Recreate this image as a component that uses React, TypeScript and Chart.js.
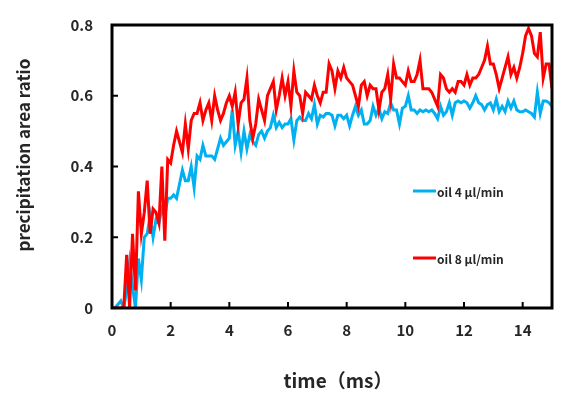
import React, { useEffect, useRef } from "react";
import { Chart, registerables } from "chart.js";

Chart.register(...registerables);

const timeStep = 0.1;

const oil8: number[] = [
  0, 0, 0, 0, 0, 0.15, 0, 0.21, 0.05, 0.33,
  0.21, 0.27, 0.36, 0.21, 0.28, 0.27, 0.24, 0.40, 0.19, 0.42,
  0.41, 0.46, 0.50, 0.47, 0.44, 0.52, 0.45, 0.53, 0.55, 0.55,
  0.58, 0.53, 0.56, 0.58, 0.53, 0.60, 0.56, 0.53, 0.55, 0.58,
  0.60, 0.57, 0.61, 0.52, 0.58, 0.59, 0.65, 0.53, 0.48, 0.52,
  0.59, 0.56, 0.53, 0.60, 0.62, 0.64, 0.56, 0.60, 0.65, 0.60,
  0.64, 0.57, 0.67, 0.61, 0.60, 0.55, 0.61, 0.60, 0.59, 0.63,
  0.60, 0.58, 0.61, 0.61, 0.69, 0.67, 0.62, 0.67, 0.65, 0.68,
  0.65, 0.64, 0.63, 0.60, 0.57, 0.63, 0.64, 0.60, 0.63, 0.62,
  0.62, 0.56, 0.61, 0.62, 0.66, 0.59, 0.69, 0.65, 0.65, 0.64,
  0.63, 0.67, 0.64, 0.64, 0.66, 0.70, 0.62, 0.62, 0.62, 0.61,
  0.59, 0.57, 0.66, 0.65, 0.62, 0.61, 0.62, 0.61, 0.64, 0.64,
  0.63, 0.66, 0.63, 0.65, 0.65, 0.66, 0.68, 0.70, 0.74, 0.69,
  0.69, 0.66, 0.62, 0.65, 0.68, 0.71, 0.66, 0.68, 0.65, 0.68,
  0.72, 0.77, 0.79, 0.77, 0.72, 0.71, 0.78, 0.65, 0.69, 0.69,
  0.62,
];

const oil4: number[] = [
  0, 0, 0.01, 0.02, 0, 0.05, 0.13, 0.06, 0, 0.14,
  0.08, 0.20, 0.21, 0.26, 0.20, 0.25, 0.24, 0.28, 0.26, 0.31,
  0.31, 0.32, 0.31, 0.35, 0.39, 0.36, 0.36, 0.40, 0.34, 0.43,
  0.42, 0.46, 0.43, 0.43, 0.43, 0.42, 0.45, 0.48, 0.46, 0.47,
  0.48, 0.56, 0.46, 0.50, 0.44, 0.50, 0.45, 0.49, 0.47, 0.46,
  0.49, 0.50, 0.48, 0.50, 0.51, 0.545, 0.51, 0.525, 0.51, 0.52,
  0.52, 0.535, 0.475, 0.53, 0.54, 0.53, 0.53, 0.55, 0.535, 0.575,
  0.52, 0.545, 0.54, 0.55, 0.55, 0.545, 0.515, 0.545, 0.545, 0.535,
  0.545, 0.515, 0.545, 0.57, 0.545, 0.56, 0.52, 0.52, 0.53, 0.57,
  0.545, 0.565, 0.535, 0.555, 0.55, 0.58, 0.56, 0.56, 0.52, 0.565,
  0.57, 0.60, 0.56, 0.56, 0.55, 0.56, 0.555, 0.56, 0.555, 0.56,
  0.55, 0.535, 0.57, 0.545, 0.555, 0.58, 0.545, 0.58, 0.585, 0.58,
  0.585, 0.58, 0.565, 0.58, 0.60, 0.58, 0.575, 0.56, 0.575, 0.58,
  0.56, 0.59, 0.555, 0.57, 0.555, 0.585, 0.565, 0.585, 0.56, 0.555,
  0.555, 0.56, 0.555, 0.55, 0.54, 0.61, 0.55, 0.585, 0.585, 0.58,
  0.57,
];

const xTickValues = [0, 2, 4, 6, 8, 10, 12, 14];
const seriesNames = ["oil 4 μl/min", "oil 8 μl/min"];
const seriesColors = ["#00B0F0", "#FF0000"];
const xTitle = "time（ms）";
const yTitle = "precipitation area ratio";

const FONT = "'Noto Sans CJK JP', 'Noto Sans', sans-serif";
const TEXT = "#262626";

const framePlugin = {
  id: "frameAndLabels",
  afterDatasetsDraw(chart: any) {
    const { ctx, chartArea: a, scales } = chart;
    const xs = scales.x;
    const ys = scales.y;
    ctx.save();
    ctx.strokeStyle = "#000";
    ctx.lineWidth = 2;
    xs.ticks.forEach((t: any) => {
      const px = xs.getPixelForValue(t.value);
      ctx.beginPath();
      ctx.moveTo(px, a.bottom);
      ctx.lineTo(px, a.bottom - 6);
      ctx.stroke();
    });
    ys.ticks.forEach((t: any) => {
      const py = ys.getPixelForValue(t.value);
      ctx.beginPath();
      ctx.moveTo(a.left, py);
      ctx.lineTo(a.left + 6, py);
      ctx.stroke();
    });
    ctx.lineWidth = 3;
    ctx.strokeRect(a.left, a.top, a.right - a.left, a.bottom - a.top);

    const lx = a.left + 301;
    const legendY = [a.top + 166, a.top + 233];
    ctx.font = `bold 12px ${FONT}`;
    ctx.textBaseline = "middle";
    ctx.textAlign = "left";
    seriesNames.forEach((name, i) => {
      ctx.strokeStyle = seriesColors[i];
      ctx.lineWidth = 3;
      ctx.beginPath();
      ctx.moveTo(lx, legendY[i]);
      ctx.lineTo(lx + 23, legendY[i]);
      ctx.stroke();
      ctx.fillStyle = TEXT;
      ctx.fillText(name, lx + 24, legendY[i] + 1);
    });

    ctx.fillStyle = TEXT;
    ctx.font = `bold 19px ${FONT}`;
    ctx.textAlign = "center";
    ctx.textBaseline = "middle";
    ctx.fillText(xTitle, (a.left + a.right) / 2 + 6, 381);
    ctx.save();
    ctx.translate(24, 155);
    ctx.rotate(-Math.PI / 2);
    ctx.font = `bold 17px ${FONT}`;
    ctx.fillText(yTitle, 0, 0);
    ctx.restore();
    ctx.restore();
  },
};

export default function App() {
  const ref = useRef<HTMLCanvasElement | null>(null);

  useEffect(() => {
    if (!ref.current) return;
    const times = oil4.map((_, i) => Math.round(i * timeStep * 10) / 10);
    const chart = new Chart(ref.current, {
      type: "line",
      data: {
        datasets: [
          {
            label: seriesNames[1],
            data: oil8.map((v, i) => ({ x: times[i], y: v })),
            borderColor: seriesColors[1],
            borderWidth: 3,
            pointRadius: 0,
            tension: 0,
            fill: false,
          },
          {
            label: seriesNames[0],
            data: oil4.map((v, i) => ({ x: times[i], y: v })),
            borderColor: seriesColors[0],
            borderWidth: 3,
            pointRadius: 0,
            tension: 0,
            fill: false,
          },
        ],
      },
      options: {
        animation: false,
        responsive: true,
        maintainAspectRatio: false,
        layout: { padding: { left: 0, top: 25, right: 13, bottom: 0 } },
        plugins: {
          legend: { display: false },
          tooltip: { enabled: false },
        },
        scales: {
          x: {
            type: "linear",
            min: 0,
            max: 15,
            grid: { display: false, drawTicks: false },
            border: { display: false },
            afterBuildTicks: (s: any) => {
              s.ticks = xTickValues.map((v) => ({ value: v }));
            },
            ticks: {
              padding: 13,
              color: TEXT,
              font: { family: FONT, size: 15, weight: "bold" },
              maxRotation: 0,
              autoSkip: false,
            },
            afterFit: (s: any) => {
              s.height = 89;
              s.paddingRight = 0;
              s.paddingLeft = 0;
            },
          },
          y: {
            min: 0,
            max: 0.8,
            grid: { display: false, drawTicks: false },
            border: { display: false },
            ticks: {
              stepSize: 0.2,
              padding: 19,
              color: TEXT,
              font: { family: FONT, size: 15, weight: "bold" },
              callback: (v: any) => (Number(v) === 0 ? "0" : Number(v).toFixed(1)),
            },
            afterFit: (s: any) => {
              s.width = 112;
              s.paddingTop = 0;
              s.paddingBottom = 0;
            },
          },
        },
      },
      plugins: [framePlugin],
    });
    return () => chart.destroy();
  }, []);

  return (
    <div
      style={{
        position: "fixed",
        left: 0,
        top: 0,
        width: 565,
        height: 397,
        background: "#fff",
      }}
    >
      <canvas ref={ref} />
    </div>
  );
}
